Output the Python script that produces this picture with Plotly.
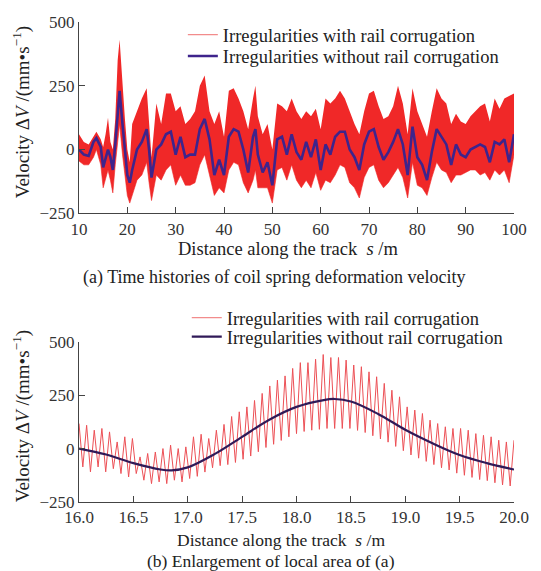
import plotly.graph_objects as go

# ---------------- Panel (a): 10–100 m ----------------
TOP_S = [10, 11, 12, 13, 13.6, 14.5, 15, 15.5, 16, 16.5, 17, 17.5, 18, 18.4, 19, 19.5, 20, 20.5,
         21, 22, 23, 24, 24.5, 25, 26, 27, 28, 29, 30, 31, 32, 33, 34, 35, 36, 37, 38, 39, 40,
         41, 42, 43, 44, 45, 46, 46.5, 47, 48, 49, 50, 51, 52, 53, 54, 55, 56, 57, 58, 59, 60,
         61, 62, 63, 64, 65, 66, 67, 68, 69, 70, 71, 72, 73, 74, 75, 76, 77, 78, 79, 80,
         81, 82, 83, 84, 85, 86, 87, 88, 89, 90, 91, 92, 93, 94, 95, 96, 97, 98, 99, 100]
# envelope of the signal with rail corrugation (upper / lower)
TOP_UPPER = [60, 30, 20, 50, 70, 40, 10, 60, 125, 30, 0, 120, 350, 430, 250, 120, 0, -50,
             100, 150, 200, 240, 100, -30, 180, 100, 220, 220, 150, 170, 100, 120, 150, 250, 290, 150, 100, 150, 50,
             230, 240, 200, 150, 80, 200, 250, 130, 60, 100, 0, 180, 170, 150, 200, 150, 120, 150, 130, 160, 80,
             200, 180, 200, 230, 200, 150, 100, 60, 150, 220, 230, 170, 120, 130, 170, 250, 180, 60, 240, 150,
             100, 50, 150, 240, 200, 180, 100, 140, 110, 100, 130, 150, 170, 180, 110, 200, 160, 200, 210, 220]
TOP_LOWER = [-45, -60, -60, -30, 0, -60, -150, -110, -80, -120, -170, -60, 20, 100, -20, -100, -180, -210,
             -180, -120, -100, -50, -130, -200, -100, -120, -80, -60, -140, -100, -140, -140, -130, -60, -20, -100, -180, -150, -170,
             -80, -50, -60, -130, -170, -120, -80, -150, -150, -150, -210, -80, -70, -120, -60, -120, -150, -120, -150, -90, -160,
             -120, -130, -100, -60, -70, -130, -150, -190, -110, -70, -60, -120, -150, -130, -100, -70, -110, -190, -50, -140,
             -150, -180, -110, -50, -80, -90, -130, -100, -100, -90, -80, -80, -100, -90, -120, -80, -100, -80, -130, -20]
# signal without rail corrugation
TOP_SMOOTH = [0, -20, -25, 30, 45, 10, -70, -30, 0, -30, -80, 20, 150, 230, 100, 0, -100, -130,
              -80, 0, 30, 80, 0, -110, 0, 20, 60, 70, -20, 50, -30, -20, -20, 80, 120, 40, -100, -40, -100,
              50, 80, 70, 0, -90, 50, 80, -20, -90, -50, -140, 40, 50, -20, 60, -10, -40, 30, -30, 40, -80,
              20, -20, 50, 70, 70, 0, -30, -80, 20, 70, 80, 10, -40, -10, 30, 80, 20, -100, 90, -30,
              -60, -120, -10, 80, 50, 20, -60, 20, -20, -30, 0, 10, 20, 10, -50, 30, 20, 40, -50, 60]

# ---------------- Panel (b): 16–20 m ----------------
CORRUGATION_WAVELENGTH = 4.0 / 57  # m, spacing of successive corrugation peaks
PEAKS = [117, 109, 86, 94, 78, 31, 55, 47, -39, -23,
         -16, 0, 16, 0, 8, 55, 67, 47, 86, 113,
         150, 172, 195, 225, 258, 293, 320, 340, 375, 402,
         402, 418, 440, 426, 426, 414, 391, 383, 359, 336,
         305, 273, 242, 195, 180, 164, 133, 117, 102, 94,
         94, 86, 70, 62, 55, 39, 31, 39]
TROUGHS = [-86, -109, -86, -109, -94, -117, -133, -117, -148, -164,
           -156, -164, -148, -156, -140, -130, -110, -90, -80, -75,
           -65, -50, -35, -15, 5, 20, 38, 55, 70, 80,
           86, 90, 94, 94, 94, 94, 85, 75, 60, 45,
           30, 10, -10, -30, -45, -60, -75, -90, -100, -115,
           -125, -135, -145, -150, -160, -170, -175]
BOT_S = [16.0, 16.25, 16.5, 16.75, 16.85, 17.0, 17.25, 17.5, 17.75, 18.0,
         18.25, 18.35, 18.5, 18.75, 19.0, 19.25, 19.5, 19.75, 20.0]
BOT_SMOOTH = [0, -28, -68, -98, -102, -88, -25, 55, 135, 195,
              227, 232, 220, 162, 88, 25, -30, -68, -98]

NAME_WITH = "Irregularities with rail corrugation"
NAME_WITHOUT = "Irregularities without rail corrugation"
TOP_XTICKS = [10, 20, 30, 40, 50, 60, 70, 80, 90, 100]
BOT_XTICKS = [16.0, 16.5, 17.0, 17.5, 18.0, 18.5, 19.0, 19.5, 20.0]
YTICKS = [-250, 0, 250, 500]

# build corrugated waveform (alternating peak / trough)
bx, by = [], []
for i, p in enumerate(PEAKS):
    bx.append(16.0 + i * CORRUGATION_WAVELENGTH)
    by.append(p)
    if i < len(TROUGHS):
        bx.append(16.0 + (i + 0.5) * CORRUGATION_WAVELENGTH)
        by.append(TROUGHS[i])

RED_FILL = "rgb(240,40,40)"
RED_LINE = "rgb(236,80,86)"
RED_LEG = "rgb(242,140,140)"
PURPLE_TOP = "rgb(62,36,140)"
PURPLE_BOT = "rgb(48,26,88)"
FONT = "'Liberation Serif', Tinos, 'Times New Roman', 'DejaVu Serif', serif"
TXT = "#222"
LEG_FONT = dict(family=FONT, size=18.5, color=TXT)

fig = go.Figure()
# top panel
fig.add_trace(go.Scatter(x=TOP_S, y=TOP_UPPER, mode="lines", line=dict(width=0, color=RED_FILL),
                         showlegend=False, hoverinfo="skip", xaxis="x", yaxis="y"))
fig.add_trace(go.Scatter(x=TOP_S, y=TOP_LOWER, mode="lines", line=dict(width=0.6, color=RED_FILL),
                         fill="tonexty", fillcolor=RED_FILL, showlegend=False, xaxis="x", yaxis="y"))
fig.add_trace(go.Scatter(x=[None], y=[None], mode="lines", line=dict(width=1.2, color=RED_LEG),
                         name=NAME_WITH, legend="legend", xaxis="x", yaxis="y"))
fig.add_trace(go.Scatter(x=TOP_S, y=TOP_SMOOTH, mode="lines", line=dict(width=2.6, color=PURPLE_TOP),
                         name=NAME_WITHOUT, legend="legend2", xaxis="x", yaxis="y"))
# bottom panel
fig.add_trace(go.Scatter(x=bx, y=by, mode="lines", line=dict(width=1, color=RED_LINE),
                         showlegend=False, xaxis="x2", yaxis="y2"))
fig.add_trace(go.Scatter(x=[None], y=[None], mode="lines", line=dict(width=1.2, color=RED_LEG),
                         name=NAME_WITH, legend="legend3", xaxis="x2", yaxis="y2"))
fig.add_trace(go.Scatter(x=BOT_S, y=BOT_SMOOTH, mode="lines", line=dict(width=2.2, color=PURPLE_BOT, shape="spline"),
                         name=NAME_WITHOUT, legend="legend4", xaxis="x2", yaxis="y2"))

axis_common = dict(showline=True, linecolor="#444", linewidth=1, ticks="inside", ticklen=6,
                   tickcolor="#444", showgrid=False, zeroline=False,
                   tickfont=dict(family=FONT, size=17, color="#333"))

# plot area: x 79..523 px, y 22..502 px  (height 480)
def px_x(p):
    return (p - 79) / 444.0

def px_y(p):
    return (502 - p) / 480.0

LEG_OFF = 19  # px from legend top to centre of its row


def leg(xp, yc):
    return dict(x=px_x(xp), y=px_y(yc - LEG_OFF), xanchor="left", yanchor="top",
                bgcolor="rgba(0,0,0,0)", font=LEG_FONT, borderwidth=0)


fig.update_layout(
    width=541, height=571,
    margin=dict(l=79, r=18, t=22, b=69),
    paper_bgcolor="white", plot_bgcolor="white",
    font=dict(family=FONT, size=16, color=TXT),
    xaxis=dict(domain=[0, 1], range=[10, 100], tickvals=TOP_XTICKS, anchor="y", **axis_common),
    yaxis=dict(domain=[px_y(213.3), 1.0], range=[-250, 500], tickvals=YTICKS, anchor="x", **axis_common),
    xaxis2=dict(domain=[0, 1], range=[16, 20], tickvals=BOT_XTICKS, tickformat=".1f", anchor="y2", **axis_common),
    yaxis2=dict(domain=[0.0, px_y(341.7)], range=[-250, 500], tickvals=YTICKS, anchor="x2", **axis_common),
    legend=leg(185, 35),
    legend2=leg(185, 56.5),
    legend3=leg(189, 318),
    legend4=leg(189, 337),
    showlegend=True,
)

ann = [
    dict(text="Distance along the track  <i>s</i> /m", x=px_x(292), y=px_y(249), size=18.5),
    dict(text="(a) Time histories of coil spring deformation velocity", x=px_x(278), y=px_y(277), size=18),
    dict(text="Distance along the track  <i>s</i> /m", x=px_x(285), y=px_y(539.5), size=17.5),
    dict(text="(b) Enlargement of local area of (a)", x=px_x(275), y=px_y(560.5), size=17.5),
]
for a in ann:
    sz = a.pop("size")
    fig.add_annotation(xref="paper", yref="paper", showarrow=False, xanchor="center", yanchor="middle",
                       font=dict(family=FONT, size=sz, color=TXT), **a)
for yc in (px_y(112), px_y(416)):
    fig.add_annotation(xref="paper", yref="paper", x=px_x(20), y=yc, showarrow=False, textangle=-90,
                       xanchor="center", yanchor="middle",
                       text="Velocity Δ<i>V</i> /(mm•s<sup>−1</sup>)",
                       font=dict(family=FONT, size=19, color=TXT))

fig.write_html("out.html", config={"displayModeBar": False},
               post_script="document.body.style.margin='0px';")
